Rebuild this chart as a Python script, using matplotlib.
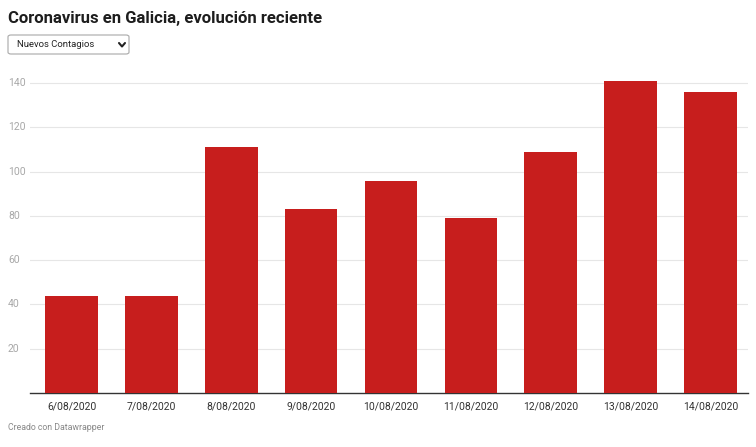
import matplotlib.pyplot as plt
from matplotlib.patches import FancyBboxPatch
from matplotlib.lines import Line2D

fechas = ['6/08/2020', '7/08/2020', '8/08/2020', '9/08/2020', '10/08/2020',
          '11/08/2020', '12/08/2020', '13/08/2020', '14/08/2020']
contagios = [44, 44, 111, 83, 96, 79, 109, 141, 136]
y_ticks = [20, 40, 60, 80, 100, 120, 140]

plt.rcParams['font.family'] = ['Roboto', 'DejaVu Sans']

W, H = 756, 447
fig = plt.figure(figsize=(W / 100, H / 100), dpi=100)
ax = fig.add_axes([30 / W, 1 - 393 / H, (748 - 30) / W, (393 - 61) / H])

x = list(range(len(fechas)))
ax.bar(x, contagios, width=0.66, color='#c71e1d', zorder=3)

ax.set_xlim(-0.52, len(fechas) - 0.53)
ax.set_ylim(0, 150)

for t in y_ticks:
    ax.axhline(t, color='#e6e6e6', lw=0.8, zorder=1)
    ax.text(8 / W, 1 - (393 - t * 2.214) / H, str(t), transform=fig.transFigure,
            ha='left', va='center', fontsize=7.5, color='#a8a8a8')

for s in ['top', 'right', 'left']:
    ax.spines[s].set_visible(False)
ax.spines['bottom'].set_color('#333333')
ax.spines['bottom'].set_linewidth(1.0)
ax.set_yticks([])
ax.set_xticks(x)
ax.set_xticklabels(fechas, fontsize=7.5, color='#333333')
ax.tick_params(axis='x', length=0, pad=6)

fig.text(8 / W, 1 - 18 / H, 'Coronavirus en Galicia, evolución reciente',
         fontsize=12, fontweight='bold', color='#1d1d1d', ha='left', va='center')

# selector desplegable
box = FancyBboxPatch((8 / W, 1 - 54 / H), 121 / W, 19 / H,
                     boxstyle='round,pad=0,rounding_size=0.004',
                     transform=fig.transFigure, facecolor='white',
                     edgecolor='#a8a8a8', lw=0.8)
fig.patches.append(box)
fig.text(17 / W, 1 - 44.5 / H, 'Nuevos Contagios', fontsize=6.8,
         color='#222222', ha='left', va='center')
fig.lines.append(Line2D([119 / W, 122 / W, 125 / W],
                        [1 - 43 / H, 1 - 46.5 / H, 1 - 43 / H],
                        transform=fig.transFigure, color='#222222', lw=1.5,
                        solid_capstyle='round', solid_joinstyle='round'))

fig.text(8 / W, 1 - 428 / H, 'Creado con Datawrapper', fontsize=6.3,
         color='#888888', ha='left', va='center')

fig.savefig('out.png', dpi=100)
